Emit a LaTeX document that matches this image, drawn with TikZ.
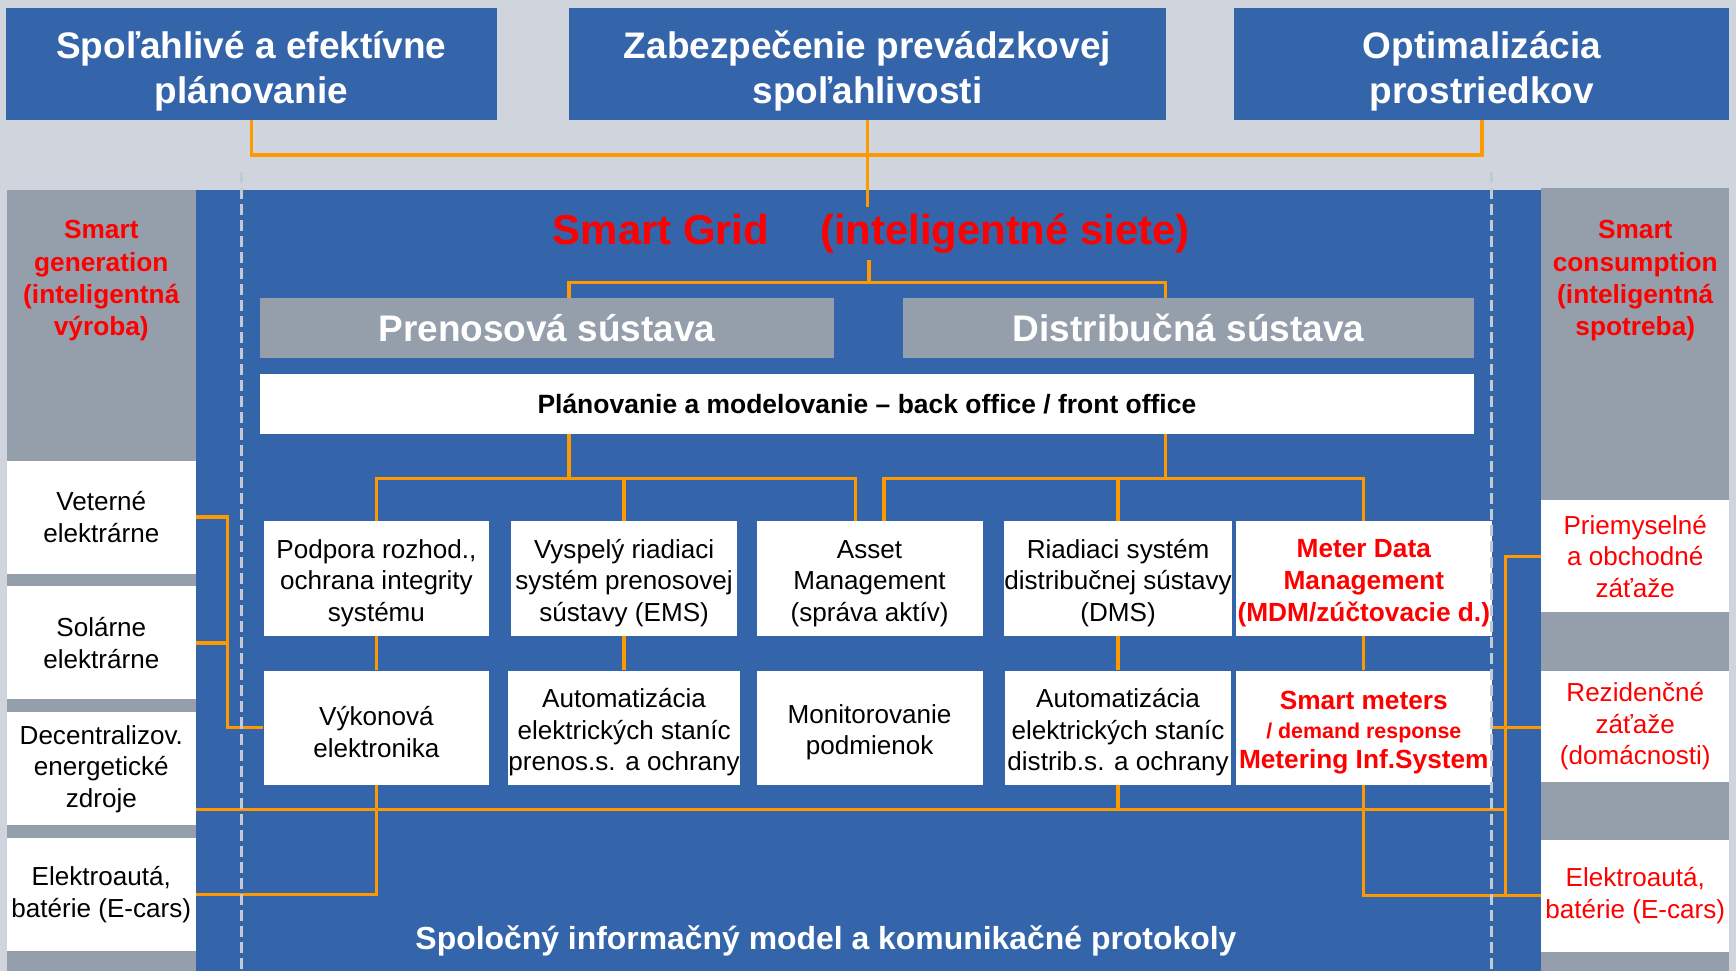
\documentclass[tikz,border=0pt]{standalone}
\usepackage{fontspec}
\setmainfont{Liberation Sans}
\usetikzlibrary{positioning}
\definecolor{gridblue}{RGB}{52,101,170}
\definecolor{colgray}{RGB}{148,159,171}
\definecolor{bggray}{RGB}{208,212,220}
\definecolor{wireorange}{RGB}{255,153,0}
\definecolor{dashgray}{RGB}{196,202,212}
% first-line struts, to set the text a little lower in its box
\newcommand{\gup}{\rule{0pt}{7.6mm}}
\newcommand{\fup}{\rule{0pt}{5.1mm}}

\begin{document}
\begin{tikzpicture}[x=0.2mm, y=-0.2mm,
    goalbox/.style={fill=gridblue, text=white, align=center, inner sep=0pt,
                    minimum height=20.2mm, font=\bfseries\fontsize{19}{22.8}\selectfont},
    sysbox/.style={fill=colgray, text=white, inner sep=0pt, minimum height=10.8mm,
                   font=\bfseries\fontsize{19}{22}\selectfont},
    funcbox/.style={fill=white, align=center, inner sep=0pt, minimum width=40.8mm,
                    minimum height=20.6mm, font=\fontsize{13.4}{16.2}\selectfont},
    sidebox/.style={fill=white, align=center, inner sep=0pt, minimum width=34.2mm,
                    minimum height=20.4mm, font=\fontsize{13.4}{16.2}\selectfont},
    redbold/.style={text=red, font=\bfseries\fontsize{13.5}{16.5}\selectfont},
    wire/.style={draw=wireorange, line width=0.6mm},
    sepline/.style={draw=dashgray, line width=0.6mm, dash pattern=on 2mm off 0.9mm}]
  \useasboundingbox (0,0) rectangle (1568,877);
  \fill[bggray] (0,0) rectangle (1568,877);
  % areas
  \fill[gridblue] (177,172) rectangle (1392,877);
  \fill[colgray] (6,172) rectangle (177,877);
  \fill[colgray] (1392,170) rectangle (1562,877);

  % goals
  \node[goalbox, minimum width=88.8mm] (goal1) at (227,57.5) {\gup Spoľahlivé a efektívne\\plánovanie};
  \node[goalbox, minimum width=107.8mm] (goal2) at (783.5,57.5) {\gup Zabezpečenie prevádzkovej\\spoľahlivosti};
  \node[goalbox, minimum width=89.4mm] (goal3) at (1338.5,57.5) {\gup Optimalizácia\\prostriedkov};

  % smart grid
  \node[text=red, font=\bfseries\fontsize{21.5}{26}\selectfont] (title) at (787,211)
    {Smart Grid\hspace{9.2mm}(inteligentné siete)};
  \node[sysbox, minimum width=103.6mm] (trans) at (494,296.5) {Prenosová sústava};
  \node[sysbox, minimum width=103mm] (dist) at (1073.5,296.5) {Distribučná sústava};
  \node[fill=white, inner sep=0pt, minimum width=219.2mm, minimum height=10.8mm,
        font=\bfseries\fontsize{13.6}{16}\selectfont] (plan) at (783,365)
    {Plánovanie a modelovanie – back office / front office};

  % functions
  \node[funcbox] (r1a) at (340,522.5) {\fup Podpora rozhod.,\\ochrana integrity\\systému};
  \node[funcbox, right=3.8mm of r1a] (r1b) {\fup Vyspelý riadiaci\\systém prenosovej\\sústavy (EMS)};
  \node[funcbox, right=3.4mm of r1b] (r1c) {\fup Asset\\Management\\(správa aktív)};
  \node[funcbox, right=3.8mm of r1c] (r1d) {\fup Riadiaci systém\\distribučnej sústavy\\(DMS)};
  \node[funcbox, redbold, minimum width=46.2mm, right=0.6mm of r1d] (r1e)
    {\fup Meter Data\\Management\\(MDM/zúčtovacie d.)};
  \node[funcbox, below=6.2mm of r1a] (r2a) {\fup Výkonová\\elektronika};
  \node[funcbox, below=6.2mm of r1b] (r2b) {\fup Automatizácia\\elektrických staníc\\prenos.s. a ochrany};
  \node[funcbox, below=6.2mm of r1c] (r2c) {\fup Monitorovanie\\podmienok};
  \node[funcbox, below=6.2mm of r1d] (r2d) {\fup Automatizácia\\elektrických staníc\\distrib.s. a ochrany};
  \node[funcbox, redbold, minimum width=46.2mm, below=6.2mm of r1e] (r2e)
    {\fup Smart meters\\[-1.5pt]{\fontsize{11}{13}\selectfont / demand response}\\[-1pt]Metering Inf.System};

  % smart generation
  \node[redbold, align=center] (gentitle) at (91.5,253.5) {Smart\\generation\\(inteligentná\\výroba)};
  \node[sidebox] (gen1) at (91.5,467) {Veterné\\elektrárne};
  \node[sidebox, below=2.2mm of gen1] (gen2) {Solárne\\elektrárne};
  \node[sidebox, below=2.2mm of gen2] (gen3) {Decentralizov.\\energetické\\zdroje};
  \node[sidebox, below=2.2mm of gen3] (gen4) {Elektroautá,\\batérie (E-cars)};

  % smart consumption
  \node[redbold, align=center] (contitle) at (1477,253.5) {Smart\\consumption\\(inteligentná\\spotreba)};
  \node[sidebox, text=red, minimum width=34mm, minimum height=20.2mm] (con1) at (1477,502.5)
    {Priemyselné\\a obchodné\\záťaže};
  \node[sidebox, text=red, minimum width=34mm, minimum height=20.2mm, below=10.4mm of con1] (con2)
    {Rezidenčné\\záťaže\\(domácnosti)};
  \node[sidebox, text=red, minimum width=34mm, minimum height=20.2mm, below=10.2mm of con2] (con3)
    {Elektroautá,\\batérie (E-cars)};

  \node[text=white, font=\bfseries\fontsize{16.4}{19}\selectfont] (common) at (746,850)
    {Spoločný informačný model a komunikačné protokoly};

  % connectors
  \coordinate (topbus) at (785,140);
  \coordinate (sgbus) at (785,255);
  \coordinate (tx) at (514,255);
  \coordinate (dx) at (1053,255);
  \coordinate (lbus) at (514,432);
  \coordinate (rbus) at (1053,432);
  \coordinate (bus) at (1360,731);
  \draw[wire] (goal1.south) |- (topbus) -| (goal3.south);
  \draw[wire] (goal2.south) -- (goal2.south |- title.north);
  \draw[wire] (sgbus |- title.south) -- (sgbus);
  \draw[wire] (tx |- trans.north) -- (tx) -- (dx) -- (dx |- dist.north);
  \draw[wire] (tx |- plan.south) -- (lbus);
  \draw[wire] (dx |- plan.south) -- (rbus);
  \draw[wire] (r1a.north) |- ([xshift=-2.6mm]r1c.north |- lbus) -- ([xshift=-2.6mm]r1c.north);
  \draw[wire] (r1b.north) -- (r1b.north |- lbus);
  \draw[wire] ([xshift=2.6mm]r1c.north) |- (r1e.north |- rbus) -- (r1e.north);
  \draw[wire] (r1d.north) -- (r1d.north |- rbus);
  \draw[wire] (r1a) -- (r2a);
  \draw[wire] (r1b) -- (r2b);
  \draw[wire] (r1d) -- (r2d);
  \draw[wire] (r1e) -- (r2e);
  \draw[wire] (gen1.east) -- ++(28,0) |- (r2a.west);
  \draw[wire] (gen2.east) -- ++(28,0);
  \draw[wire] (r2a.south) |- (gen4.east);
  \draw[wire] (bus -| gen3.east) -- (bus);
  \draw[wire] (r2d.south) -- (r2d.south |- bus);
  \draw[wire] (r2e.south) |- (con3.west);
  \draw[wire] (r2e.east) -- (r2e.east -| con2.west);
  \draw[wire] (con1.west) -- ++(-32,0) |- (con3.west);

  % borders of the grid
  \coordinate (sepl) at (218,155);
  \coordinate (sepr) at (1347,155);
  \draw[sepline] (sepl) -- (sepl |- common.south) -- ++(0,30);
  \draw[sepline] (sepr) -- (sepr |- common.south) -- ++(0,30);
\end{tikzpicture}
\end{document}
